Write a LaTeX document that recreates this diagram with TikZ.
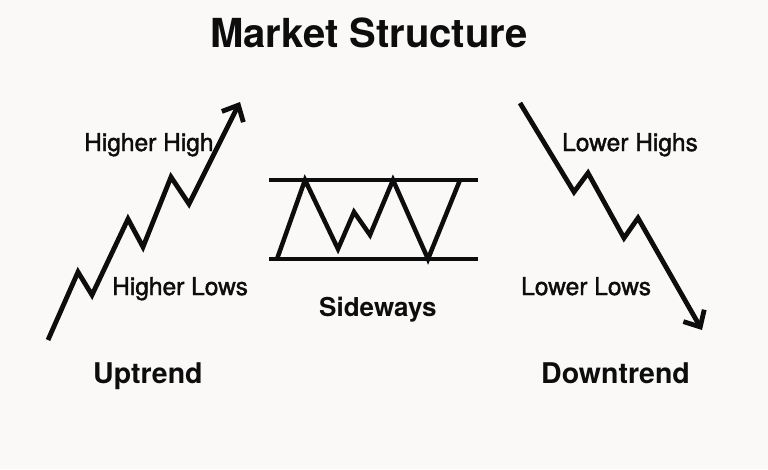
\documentclass[tikz,border=0pt]{standalone}
\usepackage{fontspec}
\setmainfont{TeX Gyre Heros}
\newfontfamily\medfont[RawFeature={embolden=1.6}]{TeX Gyre Heros}
\usetikzlibrary{arrows.meta}
\definecolor{bgcol}{HTML}{FAF9F7}
\definecolor{ink}{HTML}{0D0D0D}
\begin{document}
\begin{tikzpicture}[x=1pt,y=-1pt,
  trend/.style={draw=ink,line width=4.8pt,line join=miter},
  trendarrow/.style={trend,-{Straight Barb[length=13pt,width=24pt,line width=4.8pt]}},
  rangeline/.style={draw=ink,line width=4pt},
  lbl/.style={text=ink,inner sep=0pt,anchor=base west,font=\fontsize{24.5}{28}\medfont},
  heading/.style={text=ink,inner sep=0pt,anchor=base west,font=\fontsize{28.5}{32}\selectfont\bfseries},
  titlestyle/.style={text=ink,inner sep=0pt,anchor=base,font=\fontsize{40}{46}\selectfont\bfseries}]
\fill[bgcol] (0,0) rectangle (768,469);
\useasboundingbox (0,0) rectangle (768,469);
\node[titlestyle] (title) at (369,47) {Market Structure};
% uptrend
\draw[trendarrow] (48,340) -- (78,272) -- (92,295) -- (128,219) -- (143,247) -- (171,177) -- (189,204) -- (240,102);
\node[lbl] (hh) at (84,151) {Higher High};
\node[lbl] (hl) at (112,295) {Higher Lows};
\node[heading] (up) at (93,383) {Uptrend};
% sideways
\draw[rangeline] (269,180) -- (478,180);
\draw[rangeline] (269,259) -- (478,259);
\draw[trend,line width=4.5pt] (277,259) -- (305,180) -- (338,249) -- (354,212) -- (370,235) -- (393,180) -- (428,259) -- (460,180);
\node[heading,font=\fontsize{26}{30}\selectfont\bfseries] (side) at (319,316) {Sideways};
% downtrend
\draw[trendarrow] (520,103) -- (574,192) -- (588,173) -- (624,238) -- (638,218) -- (702,330);
\node[lbl] (lh) at (562,151) {Lower Highs};
\node[lbl] (ll) at (521,295) {Lower Lows};
\node[heading] (down) at (541,383) {Downtrend};
\end{tikzpicture}
\end{document}
